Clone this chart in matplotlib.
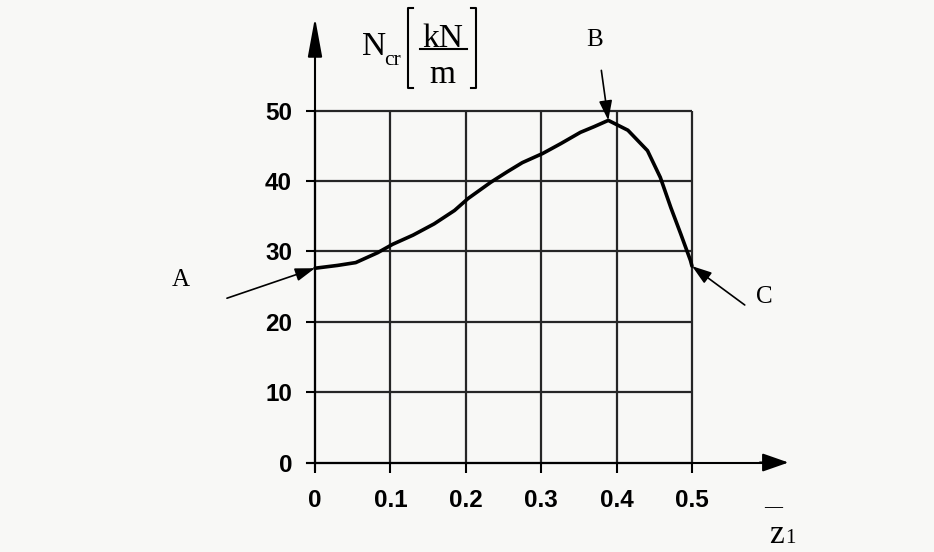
import numpy as np
import matplotlib
matplotlib.use('Agg')
import matplotlib.pyplot as plt
from matplotlib.lines import Line2D

# critical load N_cr [kN/m] versus z1
z1 = [0.000, 0.030, 0.054, 0.083, 0.103, 0.130, 0.158, 0.185, 0.203, 0.233,
      0.255, 0.275, 0.302, 0.326, 0.352, 0.370, 0.389, 0.415, 0.441, 0.458,
      0.472, 0.485, 0.498, 0.500]
ncr = [27.6, 28.0, 28.4, 29.8, 31.0, 32.3, 33.9, 35.8, 37.5, 39.8,
       41.3, 42.6, 43.9, 45.3, 46.9, 47.7, 48.6, 47.2, 44.3, 40.5,
       36.2, 32.5, 28.7, 27.9]

xticks = [0, 0.1, 0.2, 0.3, 0.4, 0.5]
xticklabels = ['0', '0.1', '0.2', '0.3', '0.4', '0.5']
yticks = [0, 10, 20, 30, 40, 50]

W, H = 934, 552
bg = '#f8f8f6'
fig = plt.figure(figsize=(W / 100, H / 100), dpi=100, facecolor=bg)

def px(x, y):
  # pixel position (from top-left) -> figure fraction
  return x / W, 1 - y / H

# axes cover the whole figure, limits chosen so the grid sits where the scan has it
ax = fig.add_axes([0, 0, 1, 1])
ax.set_facecolor(bg)
ax.set_xlim(-0.4178, 0.8210)
ax.set_ylim(-12.71, 65.70)

# grid
ax.hlines(yticks, 0, xticks[-1], color='#262626', lw=1.6, zorder=1)
ax.vlines(xticks, 0, yticks[-1], color='#262626', lw=1.6, zorder=1)

# curve
ax.plot(z1, ncr, color='black', lw=2.6, solid_capstyle='round', zorder=3)

# axes through the origin
for s in ['top', 'right']:
  ax.spines[s].set_visible(False)
ax.spines['left'].set_position(('data', 0))
ax.spines['bottom'].set_position(('data', 0))
ax.spines['left'].set_bounds(-1.1, 60)
ax.spines['bottom'].set_bounds(-0.011, 0.6)
ax.spines['left'].set_linewidth(1.5)
ax.spines['bottom'].set_linewidth(1.5)

ax.set_xticks(xticks)
ax.set_xticklabels(xticklabels)
ax.set_yticks(yticks)
ax.tick_params(axis='y', direction='out', length=6.5, width=1.5, pad=10)
ax.tick_params(axis='x', direction='out', length=7, width=1.5, pad=12)
for lab in ax.get_xticklabels() + ax.get_yticklabels():
  lab.set_fontfamily('Liberation Sans')
  lab.set_fontweight('bold')
  lab.set_fontsize(17.5)

# arrow heads on the axes
ax.annotate('', xy=(0, 63.2), xytext=(0, 58),
            arrowprops=dict(arrowstyle='-|>,head_length=1.2,head_width=0.22',
                            mutation_scale=20, lw=1.5, color='black',
                            shrinkA=0, shrinkB=0))
ax.annotate('', xy=(0.628, 0), xytext=(0.59, 0),
            arrowprops=dict(arrowstyle='-|>,head_length=0.8,head_width=0.28',
                            mutation_scale=20, lw=1.5, color='black',
                            shrinkA=0, shrinkB=0))

# y axis title: N_cr [kN / m]
serif = 'Liberation Serif'
fig.text(*px(362, 55), 'N', fontsize=24, fontfamily=serif, ha='left', va='baseline')
fig.text(*px(384, 65), 'cr', fontsize=15.5, fontfamily=serif, ha='left', va='baseline')
fig.text(*px(443, 47), 'kN', fontsize=24, fontfamily=serif, ha='center', va='baseline')
fig.text(*px(442, 83), 'm', fontsize=24, fontfamily=serif, ha='center', va='baseline')
for xs, ys in [([420, 467], [49, 49]),
               ([413, 408, 408, 413], [8, 8, 88, 88]),
               ([471, 476, 476, 471], [8, 8, 88, 88])]:
  fx, fy = zip(*[px(a, b) for a, b in zip(xs, ys)])
  fig.add_artist(Line2D(fx, fy, color='black', lw=1.5, transform=fig.transFigure))

# x axis title: z1 with bar
fig.text(*px(773, 508), '\u2014', fontsize=13, fontfamily=serif,
         fontweight='bold', ha='center', va='center')
fig.text(*px(784, 543), 'z', fontsize=24, fontfamily=serif, ha='right', va='baseline')
fig.text(*px(785, 543), '1', fontsize=15, fontfamily=serif, ha='left', va='baseline')

# point labels A, B, C with arrows
marks = [('A', 0, (-63.4, -21.6), (-97, -8.6)),
         ('B', int(np.argmax(ncr)), (-5, 36), (-10, 57.6)),
         ('C', len(z1) - 1, (38, -28), (52, -22))]
for name, i, tail, lab in marks:
  ax.annotate('', xy=(z1[i], ncr[i]), xytext=tail, textcoords='offset points',
              arrowprops=dict(arrowstyle='-|>,head_length=0.6,head_width=0.2',
                              mutation_scale=20, lw=1.2, color='black',
                              shrinkA=0, shrinkB=0))
  ax.annotate(name, xy=(z1[i], ncr[i]), xytext=lab, textcoords='offset points',
              fontsize=18, fontfamily=serif, ha='center', va='center')

plt.savefig('out.png', dpi=100, facecolor=bg)
